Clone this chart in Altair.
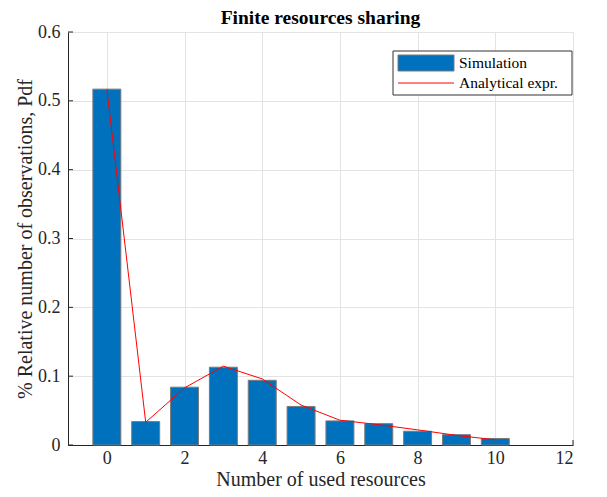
import altair as alt
import pandas as pd

# ---- data ----
resources = [0, 1, 2, 3, 4, 5, 6, 7, 8, 9, 10]
sim_pdf = [0.517, 0.034, 0.084, 0.113, 0.094, 0.056, 0.035, 0.031, 0.020, 0.015, 0.0095]
ana_pdf = [0.517, 0.033, 0.083, 0.1145, 0.096, 0.058, 0.036, 0.0295, 0.022, 0.014, 0.0075]
series_names = ["Simulation", "Analytical expr."]
x_ticks = [0, 2, 4, 6, 8, 10, 12]
y_ticks = [0, 0.1, 0.2, 0.3, 0.4, 0.5, 0.6]

FONT = "Liberation Serif"
BLUE = "#0072BD"
RED = "#FF0000"
EDGE = "#7a7a7a"
AX = "#262626"

bars_df = pd.DataFrame({"n": resources, "pdf": sim_pdf})
line_df = pd.DataFrame({"n": resources, "pdf": ana_pdf})
xt_df = pd.DataFrame({"t": x_ticks})
yt_df = pd.DataFrame({"t": y_ticks})

x_scale = alt.Scale(domain=[-1, 12], nice=False, zero=False)
y_scale = alt.Scale(domain=[0, 0.6], nice=False)

axis_style = dict(
    labelFont=FONT, labelFontSize=18, labelColor=AX,
    titleFont=FONT, titleColor=AX, titleFontWeight="normal",
    titleBaseline="alphabetic",
    domainColor=AX, domainWidth=1, ticks=False,
    gridColor="#e3e3e3", gridWidth=1, grid=True,
)
x_axis = alt.Axis(values=x_ticks, title="Number of used resources", labelPadding=4,
                  titleY=40, titleFontSize=20, **axis_style)
y_axis = alt.Axis(values=y_ticks, title="% Relative number of observations, Pdf",
                  format="~g", labelPadding=8, titleX=-37, titleFontSize=20, **axis_style)

bars = alt.Chart(bars_df).transform_calculate(
    lo="datum.n - 0.36", hi="datum.n + 0.36"
).mark_rect(stroke=EDGE, strokeWidth=1, fill=BLUE).encode(
    x=alt.X("lo:Q", scale=x_scale, axis=x_axis),
    x2="hi:Q",
    y=alt.Y("pdf:Q", scale=y_scale, axis=y_axis),
    y2=alt.datum(0),
)

line = alt.Chart(line_df).mark_line(strokeWidth=1, color=RED).encode(
    x=alt.X("n:Q", scale=x_scale, axis=x_axis),
    y=alt.Y("pdf:Q", scale=y_scale, axis=y_axis),
)

yticks = alt.Chart(yt_df).mark_rule(color=AX, strokeWidth=1).encode(
    y=alt.Y("t:Q", scale=y_scale, axis=y_axis),
    x=alt.value(0),
    x2=alt.value(5),
)
xticks = alt.Chart(xt_df).mark_rule(color=AX, strokeWidth=1).encode(
    x=alt.X("t:Q", scale=x_scale, axis=x_axis),
    y=alt.value(413),
    y2=alt.value(408),
)

# ---- legend box (MATLAB style, inside the axes, top right) ----
leg_box = alt.Chart().mark_rect(fill="white", stroke="#333333", strokeWidth=1).encode(
    x=alt.value(325), x2=alt.value(504), y=alt.value(19), y2=alt.value(63)
)
leg_bar = alt.Chart().mark_rect(fill=BLUE, stroke=EDGE, strokeWidth=1).encode(
    x=alt.value(330), x2=alt.value(386), y=alt.value(23), y2=alt.value(39)
)
leg_line = alt.Chart().mark_rule(color=RED, strokeWidth=1).encode(
    x=alt.value(330), x2=alt.value(386), y=alt.value(51)
)
leg_t1 = alt.Chart().mark_text(font=FONT, fontSize=15.5, color="#000000", align="left",
                               baseline="middle").encode(
    x=alt.value(391), y=alt.value(31), text=alt.value(series_names[0])
)
leg_t2 = alt.Chart().mark_text(font=FONT, fontSize=15.5, color="#000000", align="left",
                               baseline="middle").encode(
    x=alt.value(391), y=alt.value(51), text=alt.value(series_names[1])
)

chart = alt.layer(
    xticks, bars, line, yticks, leg_box, leg_bar, leg_line, leg_t1, leg_t2
).properties(
    width=505,
    height=413,
    title=alt.TitleParams("Finite resources sharing", font=FONT, fontSize=19.5,
                          fontWeight="bold", color="#000000", offset=4, frame="group",
                          dy=9),
    autosize=alt.AutoSizeParams(type="none"),
    padding={"left": 60, "top": 24, "right": 26, "bottom": 44},
).configure(font=FONT).configure_view(stroke=None).configure_axis(
    titleFont=FONT, labelFont=FONT
)

chart.save("out.html", embed_options={"renderer": "svg", "actions": False})
